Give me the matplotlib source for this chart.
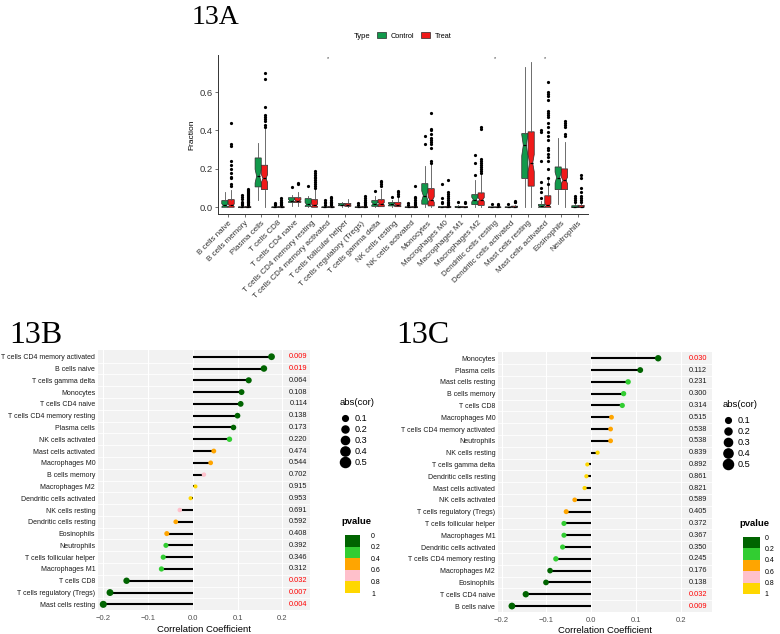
import matplotlib
matplotlib.use("Agg")
import matplotlib.pyplot as plt
import matplotlib.cm as cm
import numpy as np
from matplotlib.colors import ListedColormap, BoundaryNorm
from matplotlib.patches import Patch
from matplotlib.lines import Line2D

plt.rcParams['font.family'] = ['Liberation Sans', 'DejaVu Sans']

# ---------------- 13A data (box plot) ----------------
cells = ["B cells naive", "B cells memory", "Plasma cells", "T cells CD8", "T cells CD4 naive",
         "T cells CD4 memory resting", "T cells CD4 memory activated", "T cells follicular helper",
         "T cells regulatory (Tregs)", "T cells gamma delta", "NK cells resting", "NK cells activated",
         "Monocytes", "Macrophages M0", "Macrophages M1", "Macrophages M2", "Dendritic cells resting",
         "Dendritic cells activated", "Mast cells resting", "Mast cells activated", "Eosinophils",
         "Neutrophils"]

ctrl_q1 = [0.000, 0.000, 0.106, 0.000, 0.025, 0.005, 0.000, 0.008, 0.000, 0.005, 0.007,
           0.000, 0.016, 0.000, 0.000, 0.014, 0.000, 0.000, 0.150, 0.000, 0.092, 0.000]
ctrl_med = [0.010, 0.000, 0.162, 0.000, 0.035, 0.015, 0.000, 0.014, 0.000, 0.018, 0.015,
            0.000, 0.060, 0.000, 0.000, 0.040, 0.000, 0.000, 0.323, 0.005, 0.155, 0.000]
ctrl_q3 = [0.035, 0.002, 0.257, 0.002, 0.050, 0.045, 0.002, 0.020, 0.002, 0.035, 0.025,
           0.002, 0.123, 0.003, 0.005, 0.066, 0.002, 0.002, 0.384, 0.015, 0.210, 0.008]
ctrl_lo = [0.000, 0.000, 0.037, 0.000, 0.005, 0.000, 0.000, 0.004, 0.000, 0.000, 0.002,
           0.000, 0.000, 0.000, 0.000, 0.000, 0.000, 0.000, 0.000, 0.000, 0.015, 0.000]
ctrl_hi = [0.080, 0.004, 0.337, 0.004, 0.065, 0.060, 0.004, 0.025, 0.004, 0.060, 0.040,
           0.004, 0.214, 0.006, 0.010, 0.140, 0.004, 0.004, 0.732, 0.035, 0.360, 0.018]
ctrl_out = [[], [0.065, 0.055, 0.045, 0.03, 0.02, 0.015, 0.01], [], [0.02, 0.015, 0.01],
            [0.105], [0.11], [0.04, 0.03, 0.02, 0.01], [], [0.02, 0.012], [0.085], [0.055],
            [0.02, 0.012], [0.37, 0.33], [0.12, 0.05, 0.03, 0.02], [0.025], [0.27, 0.23, 0.17],
            [0.015], [0.015], [], [0.40, 0.39, 0.24, 0.13, 0.10, 0.08, 0.05], [],
            [0.06, 0.05, 0.04, 0.03]]

trt_q1 = [0.000, 0.000, 0.092, 0.000, 0.025, 0.000, 0.000, 0.005, 0.000, 0.003, 0.003,
          0.000, 0.007, 0.000, 0.000, 0.010, 0.000, 0.000, 0.110, 0.000, 0.092, 0.000]
trt_med = [0.010, 0.000, 0.150, 0.000, 0.035, 0.010, 0.000, 0.013, 0.000, 0.018, 0.012,
           0.000, 0.040, 0.000, 0.000, 0.040, 0.000, 0.002, 0.230, 0.010, 0.140, 0.002]
trt_q3 = [0.040, 0.003, 0.219, 0.003, 0.050, 0.040, 0.003, 0.020, 0.003, 0.040, 0.025,
          0.003, 0.097, 0.004, 0.004, 0.075, 0.002, 0.006, 0.393, 0.060, 0.200, 0.010]
trt_lo = [0.000, 0.000, 0.000, 0.000, 0.005, 0.000, 0.000, 0.000, 0.000, 0.000, 0.000,
          0.000, 0.000, 0.000, 0.000, 0.000, 0.000, 0.000, 0.000, 0.000, 0.000, 0.000]
trt_hi = [0.090, 0.006, 0.410, 0.006, 0.080, 0.095, 0.006, 0.045, 0.006, 0.095, 0.055,
          0.006, 0.230, 0.008, 0.008, 0.170, 0.004, 0.012, 0.757, 0.145, 0.340, 0.022]
trt_out = [[0.44, 0.33, 0.32, 0.24, 0.22, 0.20, 0.18, 0.16, 0.15, 0.12, 0.11],
           [0.095, 0.09, 0.085, 0.08, 0.075, 0.07, 0.065, 0.06, 0.055, 0.05, 0.045, 0.04,
            0.035, 0.03, 0.025, 0.02, 0.015, 0.01],
           [0.70, 0.67, 0.52, 0.48, 0.47, 0.46, 0.45, 0.43, 0.42],
           [0.05, 0.04, 0.03, 0.025, 0.02, 0.015, 0.01],
           [0.125, 0.12],
           [0.19, 0.18, 0.17, 0.16, 0.15, 0.14, 0.13, 0.12, 0.11, 0.10],
           [0.055, 0.05, 0.04, 0.03, 0.025, 0.02, 0.015, 0.01],
           [],
           [0.06, 0.05, 0.04, 0.03, 0.025, 0.02, 0.015, 0.01],
           [0.135, 0.13, 0.12, 0.11],
           [0.085, 0.08, 0.07, 0.06],
           [0.11, 0.055, 0.05, 0.04, 0.03, 0.02, 0.015, 0.01],
           [0.49, 0.41, 0.40, 0.38, 0.36, 0.35, 0.34, 0.33, 0.31, 0.24, 0.23],
           [0.14, 0.08, 0.07, 0.06, 0.05, 0.04, 0.03, 0.02, 0.015, 0.01],
           [0.03, 0.02],
           [0.42, 0.41, 0.25, 0.24, 0.23, 0.22, 0.21, 0.20, 0.19, 0.18],
           [0.015, 0.01],
           [0.035, 0.03, 0.025],
           [],
           [0.65, 0.60, 0.59, 0.58, 0.56, 0.50, 0.49, 0.48, 0.47, 0.44, 0.42, 0.39, 0.37,
            0.35, 0.31, 0.30, 0.28, 0.26, 0.24, 0.20, 0.15, 0.12],
           [0.45, 0.44, 0.43, 0.42, 0.38, 0.37],
           [0.17, 0.15, 0.10, 0.08, 0.06, 0.05, 0.04, 0.03]]

n_ctrl, n_trt = 45, 100
signif_cells = ["T cells CD4 memory activated", "Dendritic cells resting", "Mast cells activated"]

# ---------------- 13B / 13C data (lollipops) ----------------
names_b = ["T cells CD4 memory activated", "B cells naive", "T cells gamma delta", "Monocytes",
           "T cells CD4 naive", "T cells CD4 memory resting", "Plasma cells", "NK cells activated",
           "Mast cells activated", "Macrophages M0", "B cells memory", "Macrophages M2",
           "Dendritic cells activated", "NK cells resting", "Dendritic cells resting", "Eosinophils",
           "Neutrophils", "T cells follicular helper", "Macrophages M1", "T cells CD8",
           "T cells regulatory (Tregs)", "Mast cells resting"]
cor_b = [0.176, 0.159, 0.125, 0.109, 0.107, 0.100, 0.091, 0.082, 0.047, 0.040, 0.025, 0.006,
         -0.005, -0.029, -0.038, -0.058, -0.060, -0.066, -0.070, -0.148, -0.185, -0.200]
p_b = [0.009, 0.019, 0.064, 0.108, 0.114, 0.138, 0.173, 0.220, 0.474, 0.544, 0.702, 0.915,
       0.953, 0.691, 0.592, 0.408, 0.392, 0.346, 0.312, 0.032, 0.007, 0.004]

names_c = ["Monocytes", "Plasma cells", "Mast cells resting", "B cells memory", "T cells CD8",
           "Macrophages M0", "T cells CD4 memory activated", "Neutrophils", "NK cells resting",
           "T cells gamma delta", "Dendritic cells resting", "Mast cells activated",
           "NK cells activated", "T cells regulatory (Tregs)", "T cells follicular helper",
           "Macrophages M1", "Dendritic cells activated", "T cells CD4 memory resting",
           "Macrophages M2", "Eosinophils", "T cells CD4 naive", "B cells naive"]
cor_c = [0.149, 0.109, 0.082, 0.072, 0.069, 0.045, 0.043, 0.043, 0.014, -0.009, -0.011, -0.015,
         -0.037, -0.056, -0.061, -0.061, -0.064, -0.079, -0.092, -0.101, -0.146, -0.177]
p_c = [0.030, 0.112, 0.231, 0.300, 0.314, 0.515, 0.538, 0.538, 0.839, 0.892, 0.861, 0.821,
       0.589, 0.405, 0.372, 0.367, 0.350, 0.245, 0.176, 0.138, 0.032, 0.009]

size_breaks = [0.1, 0.2, 0.3, 0.4, 0.5]
p_breaks = [0, 0.2, 0.4, 0.6, 0.8, 1]
p_colors = ["#006400", "#32CD32", "#FFA500", "#FFC0CB", "#FFD700"]

GREEN, RED = "#11994B", "#F01A1A"
W, H = 780, 634


def rect(l, t, r, b):
    return [l / W, 1 - b / H, (r - l) / W, (b - t) / H]


def dot_size(c):
    return 8 + 90 * np.abs(np.asarray(c))


pcmap = ListedColormap(p_colors)
pnorm = BoundaryNorm(p_breaks, pcmap.N)

fig = plt.figure(figsize=(7.8, 6.34), dpi=100)

# ---------------- 13A ----------------
ax = fig.add_axes(rect(218, 55, 588, 214))
xpos = np.arange(1, len(cells) + 1)


def make_stats(q1, med, q3, lo, hi, out, n):
    stats = []
    for a, m, b, l, h, f in zip(q1, med, q3, lo, hi, out):
        half = 1.58 * (b - a) / np.sqrt(n)
        stats.append(dict(q1=a, med=m, q3=b, whislo=l, whishi=h, fliers=f,
                          cilo=m - half, cihi=m + half))
    return stats


for stats, off, col in [(make_stats(ctrl_q1, ctrl_med, ctrl_q3, ctrl_lo, ctrl_hi, ctrl_out, n_ctrl), -0.19, GREEN),
                        (make_stats(trt_q1, trt_med, trt_q3, trt_lo, trt_hi, trt_out, n_trt), 0.19, RED)]:
    ax.bxp(stats, positions=xpos + off, widths=0.37, shownotches=True, patch_artist=True,
           showcaps=False, manage_ticks=False,
           boxprops=dict(facecolor=col, edgecolor="#2a2a2a", linewidth=0.5),
           medianprops=dict(color="black", linewidth=0.9),
           whiskerprops=dict(color="#555555", linewidth=0.6),
           flierprops=dict(marker="o", markersize=2.3, markerfacecolor="black",
                           markeredgecolor="none"))

for name in signif_cells:
    ax.text(cells.index(name) + 1, 0.772, "*", ha="center", va="center", fontsize=4, color="#333333")

ax.set_xlim(0.4, len(cells) + 0.6)
ax.set_ylim(-0.035, 0.793)
ax.set_xticks(xpos)
ax.set_xticklabels(cells, rotation=45, ha="right", rotation_mode="anchor", fontsize=5.8, color="#333333")
ax.set_yticks([0, 0.2, 0.4, 0.6])
ax.set_yticklabels(["0.0", "0.2", "0.4", "0.6"], fontsize=6.8, color="#333333")
ax.set_ylabel("Fraction", fontsize=6, labelpad=3)
ax.tick_params(length=2.5, width=0.5, pad=1.5, colors="#333333")
for s in ["top", "right"]:
    ax.spines[s].set_visible(False)
for s in ["left", "bottom"]:
    ax.spines[s].set_linewidth(0.7)
    ax.spines[s].set_color("#333333")

fig.text(354 / W, 1 - 36 / H, "Type", fontsize=5.5, va="center", ha="left")
fig.legend(handles=[Patch(facecolor=GREEN, edgecolor="#2a2a2a", lw=0.5),
                    Patch(facecolor=RED, edgecolor="#2a2a2a", lw=0.5)],
           labels=["Control", "Treat"], loc="center left", bbox_to_anchor=(377 / W, 1 - 36 / H),
           ncol=2, frameon=False, fontsize=5.3, handlelength=1.2, handleheight=0.9,
           columnspacing=1.0, handletextpad=0.6, borderpad=0, borderaxespad=0)

fig.text(192 / W, 1 - 24 / H, "13A", family="Liberation Serif", fontsize=20, va="baseline")


# ---------------- 13B / 13C ----------------
def lollipop(box, names, cor, pv, xlim, ylim, text_x):
    a = fig.add_axes(box)
    ypos = np.arange(len(names))[::-1]
    a.set_facecolor("#F2F2F2")
    a.hlines(ypos, 0, cor, color="black", lw=1.5, zorder=2)
    a.scatter(cor, ypos, s=dot_size(cor), c=pv, cmap=pcmap, norm=pnorm, edgecolors="none", zorder=3)
    for y, p in zip(ypos, pv):
        a.text(text_x, y, f"{p:.3f}", ha="center", va="center", fontsize=5.3,
               color="#FF0000" if p < 0.05 else "#1a1a1a")
    a.set_xlim(*xlim)
    a.set_ylim(*ylim)
    a.set_yticks(ypos)
    a.set_yticklabels(names, fontsize=5.0, color="#1a1a1a")
    a.set_yticks(np.arange(len(names) - 1) + 0.5, minor=True)
    a.set_xticks([-0.2, -0.1, 0, 0.1, 0.2])
    a.set_xticklabels(["\u22120.2", "\u22120.1", "0.0", "0.1", "0.2"], fontsize=5.5, color="#4D4D4D")
    a.set_xlabel("Correlation Coefficient", fontsize=6.8, labelpad=2)
    a.tick_params(which="both", length=0, pad=2)
    a.tick_params(axis="x", pad=3.5)
    a.grid(axis="x", which="major", color="white", lw=0.8)
    a.grid(axis="y", which="minor", color="white", lw=0.6)
    a.set_axisbelow(True)
    for s in a.spines.values():
        s.set_visible(False)
    return a


lollipop(rect(98, 350, 310, 610), names_b, cor_b, p_b, (-0.2118, 0.262), (-0.48, 21.57), 0.236)
lollipop(rect(498, 352, 712, 611.7), names_c, cor_c, p_c, (-0.208, 0.269), (-0.48, 21.53), 0.237)

fig.text(9 / W, 1 - 343 / H, "13B", family="Liberation Serif", fontsize=23, va="baseline")
fig.text(396 / W, 1 - 343 / H, "13C", family="Liberation Serif", fontsize=23, va="baseline")


def size_legend(x, y):
    handles = [Line2D([], [], ls="none", marker="o", color="black", markersize=np.sqrt(dot_size(b)))
               for b in size_breaks]
    leg = fig.legend(handles=handles, labels=[str(b) for b in size_breaks], title="abs(cor)",
                     loc="upper left", bbox_to_anchor=(x / W, 1 - y / H), frameon=False, fontsize=6.6,
                     title_fontsize=6.8, labelspacing=0.22, handlelength=1.0, handletextpad=0.6,
                     borderpad=0, borderaxespad=0, alignment="left")
    leg._legend_box.sep = 5


def p_legend(box, tx, ty, pad):
    cax = fig.add_axes(box)
    cb = fig.colorbar(cm.ScalarMappable(norm=pnorm, cmap=pcmap), cax=cax, ticks=p_breaks)
    cb.outline.set_visible(False)
    cax.invert_yaxis()
    cax.set_yticklabels(["0", "0.2", "0.4", "0.6", "0.8", "1"])
    cax.tick_params(length=0, pad=pad, labelsize=5)
    fig.text(tx / W, 1 - ty / H, "pvalue", fontsize=6.8, fontweight="bold", va="center")


size_legend(340, 398)
size_legend(723, 400)
p_legend(rect(345, 535, 360, 593), 341, 522, 8)
p_legend(rect(743, 537, 760, 594), 739, 524, 3.5)

fig.savefig("out.png", dpi=100)
